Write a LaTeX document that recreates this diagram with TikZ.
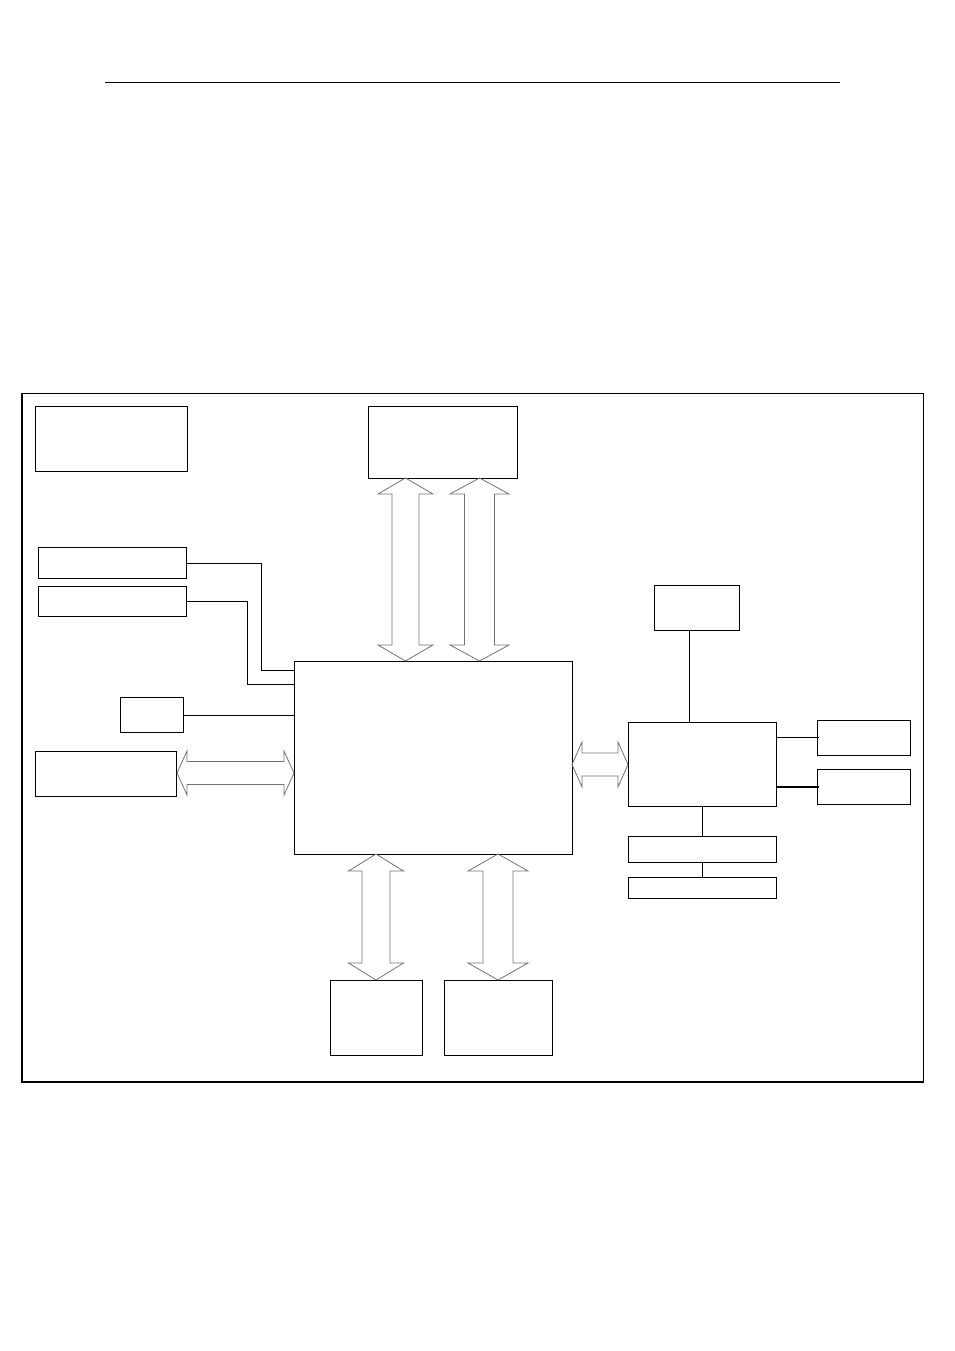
\documentclass[tikz,border=0pt]{standalone}
\usetikzlibrary{calc}
\tikzset{
  box/.style={draw=black, line width=1pt, inner sep=0pt, outer sep=0pt, fill=none},
  link/.style={draw=black, line width=1pt},
  heavylink/.style={draw=black, line width=2.2pt},
  barrow/.style={draw=black!55, line width=0.8pt, line join=miter},
}
% box: name, x1, y1, x2, y2  (pixel coordinates, y down)
\newcommand{\bx}[5]{%
  \pgfmathsetmacro{\bw}{#4-#2}\pgfmathsetmacro{\bh}{#5-#3}%
  \node[box, minimum width=\bw pt, minimum height=\bh pt] (#1) at ({(#2+#4)/2},{(#3+#5)/2}) {};}
% vertical double block arrow: cx, tip top, tip bottom, head half, shaft half, head length
\newcommand{\vda}[6]{%
  \draw[barrow] (#1,#2) -- ({#1+#4},{#2+#6}) -- ({#1+#5},{#2+#6}) -- ({#1+#5},{#3-#6}) -- ({#1+#4},{#3-#6})
    -- (#1,#3) -- ({#1-#4},{#3-#6}) -- ({#1-#5},{#3-#6}) -- ({#1-#5},{#2+#6}) -- ({#1-#4},{#2+#6}) -- cycle;}
% horizontal double block arrow: cy, tip left, tip right, head half, shaft half, head length
\newcommand{\hda}[6]{%
  \draw[barrow] (#2,#1) -- ({#2+#6},{#1-#4}) -- ({#2+#6},{#1-#5}) -- ({#3-#6},{#1-#5}) -- ({#3-#6},{#1-#4})
    -- (#3,#1) -- ({#3-#6},{#1+#4}) -- ({#3-#6},{#1+#5}) -- ({#2+#6},{#1+#5}) -- ({#2+#6},{#1+#4}) -- cycle;}
\begin{document}
\begin{tikzpicture}[x=1pt,y=-1pt]
\useasboundingbox (0,0) rectangle (954,1351);
% header rule
\coordinate (rl) at (105,82);
\coordinate (rr) at (840,82);
\draw[line width=0.8pt] (rl) -- (rr);
% outer frame
\bx{frame}{21}{393}{923}{1082}
\draw[line width=2pt] ([xshift=0.5pt]frame.north west) -- ([xshift=0.5pt]frame.south west);
\draw[line width=1.6pt] (frame.south west) -- (frame.south east);
% boxes
\bx{A}{35}{406}{187}{471}
\bx{B}{368}{406}{517}{478}
\bx{C}{38}{547}{186}{578}
\bx{D}{38}{586}{186}{616}
\bx{E}{120}{697}{183}{732}
\bx{F}{35}{751}{176}{796}
\bx{main}{294}{661}{572}{854}
\bx{G}{654}{585}{739}{630}
\bx{H}{628}{722}{776}{806}
\bx{I}{817}{720}{910}{755}
\bx{J}{817}{769}{910}{804}
\bx{K}{628}{836}{776}{862}
\bx{L}{628}{877}{776}{898}
\bx{M}{330}{980}{422}{1055}
\bx{N}{444}{980}{552}{1055}
% connectors
\draw[link] (C.east |- 0,563) -- (261,563) -- (261,670) -- (main.west |- 0,670);
\draw[link] (D.east |- 0,601) -- (247,601) -- (247,684) -- (main.west |- 0,684);
\draw[link] (E.east |- 0,715) -- (main.west |- 0,715);
\draw[link] (G.south -| 689,0) -- (H.north -| 689,0);
\draw[link] (H.east |- 0,737) -- (819,737);
\draw[heavylink] (H.east |- 0,787) -- (819,787);
\draw[link] (H.south -| 702,0) -- (K.north -| 702,0);
\draw[link] (K.south -| 702,0) -- (L.north -| 702,0);
% block double arrows
\vda{405.5}{478}{661}{27.5}{13.5}{16}
\vda{479.5}{478}{661}{29.5}{15}{16}
\vda{376}{854}{980}{27.5}{14}{17}
\vda{498}{854}{980}{30}{15}{17}
\hda{773}{177}{294}{22}{11.5}{10}
\hda{764.5}{572}{628}{22.5}{11.5}{10}
\end{tikzpicture}
\end{document}
